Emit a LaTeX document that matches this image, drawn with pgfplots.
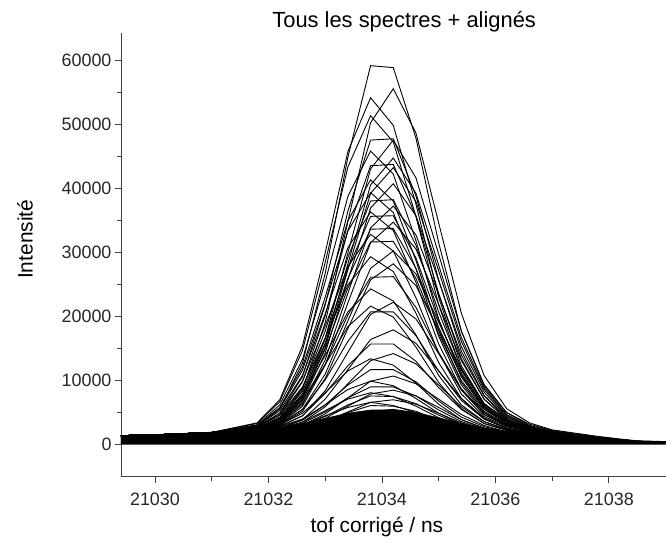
\documentclass[border=0pt]{standalone}
\usepackage{fontspec}
\setmainfont{Liberation Sans}
\usepackage{pgfplots}
\pgfplotsset{compat=1.18}

\pgfplotsset{spec/.style={black, line width=0.9pt, mark=none}}

\begin{document}
\begin{tikzpicture}
\begin{axis}[
  width=545bp, height=444bp, scale only axis,
  xmin=21029.4, xmax=21039, ymin=-5000, ymax=64200,
  axis x line=bottom, axis y line=left,
  axis line style={-, line width=0.8pt, black!75},
  tick align=outside,
  xtick={21030,21032,21034,21036,21038},
  ytick={0,10000,20000,30000,40000,50000,60000},
  minor x tick num=1, minor y tick num=1,
  major tick length=6bp, minor tick length=4bp,
  every tick/.style={line width=0.8pt, black!75},
  scaled ticks=false,
  /pgf/number format/1000 sep={},
  /pgf/number format/assume math mode=true,
  tick label style={font=\fontsize{18}{21}\selectfont, black!85},
  xticklabel style={yshift=-7bp},
  label style={font=\fontsize{21}{25}\selectfont},
  xlabel={tof corrigé / ns},
  ylabel={Intensité},
  xlabel style={at={(axis description cs:0.47,-0.113)}, anchor=center},
  ylabel style={at={(axis description cs:-0.176,0.535)}, anchor=center},
  title={Tous les spectres + alignés},
  title style={at={(axis description cs:0.52,1.025)}, anchor=center, yshift=-6pt, font=\fontsize{22}{26}\selectfont},
]
% dense band of low spectra (overlapping traces)
\addplot[fill=black, draw=black, line width=0.6pt] coordinates {
(21029.4,0) (21029.4,1400) (21030.2,1650) (21031.0,1950) (21031.8,2300) (21032.2,2700) (21032.6,3300) (21033.0,4100) (21033.4,4900) (21033.8,5400) (21034.2,5400) (21034.6,5000) (21035.0,4200) (21035.4,3300) (21035.8,2600) (21036.2,2100) (21036.6,1800) (21037.0,1500) (21037.8,1000) (21038.6,600) (21039.0,500) (21039.0,0)};

% individual spectra
\addplot[spec] coordinates {(21029.4,1400) (21030.2,1600) (21031.0,1900) (21031.8,2900) (21032.2,5600) (21032.6,12700) (21033.0,26700) (21033.4,44800) (21033.8,59100) (21034.2,58800) (21034.6,47800) (21035.0,31500) (21035.4,17700) (21035.8,9200) (21036.2,5000) (21036.6,3200) (21037.0,2200) (21037.8,1200) (21038.6,450) (21039.0,450)};
\addplot[spec] coordinates {(21029.4,1400) (21030.2,1600) (21031.0,1900) (21031.8,2500) (21032.2,4000) (21032.6,8600) (21033.0,19000) (21033.4,34800) (21033.8,50200) (21034.2,55500) (21034.6,48600) (21035.0,34600) (21035.4,20500) (21035.8,10800) (21036.2,5600) (21036.6,3400) (21037.0,2300) (21037.8,1300) (21038.6,450) (21039.0,450)};
\addplot[spec] coordinates {(21029.4,1400) (21030.2,1600) (21031.0,1900) (21031.8,3400) (21032.2,7000) (21032.6,15400) (21033.0,29900) (21033.4,45700) (21033.8,54100) (21034.2,49800) (21034.6,37500) (21035.0,23000) (21035.4,12300) (21035.8,6400) (21036.2,3900) (21036.6,2700) (21037.0,1900) (21037.8,1100) (21038.6,450) (21039.0,450)};
\addplot[spec] coordinates {(21029.4,1400) (21030.2,1600) (21031.0,1900) (21031.8,3300) (21032.2,6700) (21032.6,14700) (21033.0,28400) (21033.4,43300) (21033.8,51300) (21034.2,47200) (21034.6,35600) (21035.0,21800) (21035.4,11700) (21035.8,6200) (21036.2,3700) (21036.6,2600) (21037.0,1900) (21037.8,1000) (21038.6,450) (21039.0,450)};
\addplot[spec] coordinates {(21029.4,1400) (21030.2,1600) (21031.0,1900) (21031.8,2700) (21032.2,4900) (21032.6,10600) (21033.0,21800) (21033.4,36400) (21033.8,47500) (21034.2,47700) (21034.6,38800) (21035.0,25700) (21035.4,14600) (21035.8,7700) (21036.2,4300) (21036.6,2800) (21037.0,1900) (21037.8,1100) (21038.6,450) (21039.0,450)};
\addplot[spec] coordinates {(21029.4,1400) (21030.2,1600) (21031.0,1900) (21031.8,2500) (21032.2,3700) (21032.6,7600) (21033.0,16500) (21033.4,29900) (21033.8,43000) (21034.2,47500) (21034.6,41600) (21035.0,29700) (21035.4,17700) (21035.8,9400) (21036.2,5000) (21036.6,3000) (21037.0,2100) (21037.8,1100) (21038.6,450) (21039.0,450)};
\addplot[spec] coordinates {(21029.4,1400) (21030.2,1600) (21031.0,1900) (21031.8,3100) (21032.2,6200) (21032.6,13300) (21033.0,25400) (21033.4,38700) (21033.8,45800) (21034.2,42200) (21034.6,31800) (21035.0,19600) (21035.4,10600) (21035.8,5600) (21036.2,3500) (21036.6,2400) (21037.0,1800) (21037.8,1000) (21038.6,450) (21039.0,450)};
\addplot[spec] coordinates {(21029.4,1400) (21030.2,1600) (21031.0,1900) (21031.8,2400) (21032.2,3600) (21032.6,7300) (21033.0,15600) (21033.4,28200) (21033.8,40500) (21034.2,44700) (21034.6,39200) (21035.0,28000) (21035.4,16700) (21035.8,8900) (21036.2,4700) (21036.6,2900) (21037.0,2000) (21037.8,1100) (21038.6,450) (21039.0,450)};
\addplot[spec] coordinates {(21029.4,1400) (21030.2,1600) (21031.0,1900) (21031.8,2700) (21032.2,4600) (21032.6,9800) (21033.0,20100) (21033.4,33400) (21033.8,43500) (21034.2,43700) (21034.6,35600) (21035.0,23600) (21035.4,13400) (21035.8,7100) (21036.2,4000) (21036.6,2600) (21037.0,1800) (21037.8,1000) (21038.6,450) (21039.0,450)};
\addplot[spec] coordinates {(21029.4,1400) (21030.2,1600) (21031.0,1900) (21031.8,2400) (21032.2,3500) (21032.6,7100) (21033.0,15100) (21033.4,27300) (21033.8,39200) (21034.2,43200) (21034.6,37900) (21035.0,27100) (21035.4,16100) (21035.8,8600) (21036.2,4600) (21036.6,2800) (21037.0,2000) (21037.8,1100) (21038.6,450) (21039.0,450)};
\addplot[spec] coordinates {(21029.4,1400) (21030.2,1600) (21031.0,1900) (21031.8,3000) (21032.2,5800) (21032.6,12100) (21033.0,23000) (21033.4,34900) (21033.8,41300) (21034.2,38000) (21034.6,28700) (21035.0,17800) (21035.4,9700) (21035.8,5200) (21036.2,3200) (21036.6,2300) (21037.0,1700) (21037.8,900) (21038.6,450) (21039.0,450)};
\addplot[spec] coordinates {(21029.4,1400) (21030.2,1600) (21031.0,1900) (21031.8,2400) (21032.2,3400) (21032.6,6800) (21033.0,14300) (21033.4,25700) (21033.8,36900) (21034.2,40700) (21034.6,35700) (21035.0,25600) (21035.4,15300) (21035.8,8200) (21036.2,4400) (21036.6,2700) (21037.0,1900) (21037.8,1000) (21038.6,450) (21039.0,450)};
\addplot[spec] coordinates {(21029.4,1400) (21030.2,1600) (21031.0,1900) (21031.8,3000) (21032.2,5600) (21032.6,11600) (21033.0,22000) (21033.4,33300) (21033.8,39300) (21034.2,36200) (21034.6,27400) (21035.0,16900) (21035.4,9300) (21035.8,5000) (21036.2,3100) (21036.6,2200) (21037.0,1700) (21037.8,900) (21038.6,450) (21039.0,450)};
\addplot[spec] coordinates {(21029.4,1400) (21030.2,1600) (21031.0,1900) (21031.8,2600) (21032.2,4300) (21032.6,8800) (21033.0,17700) (21033.4,29200) (21033.8,38000) (21034.2,38200) (21034.6,31100) (21035.0,20700) (21035.4,11900) (21035.8,6400) (21036.2,3700) (21036.6,2400) (21037.0,1700) (21037.8,900) (21038.6,450) (21039.0,450)};
\addplot[spec] coordinates {(21029.4,1400) (21030.2,1600) (21031.0,1900) (21031.8,2400) (21032.2,3300) (21032.6,6300) (21033.0,13200) (21033.4,23600) (21033.8,33800) (21034.2,37200) (21034.6,32700) (21035.0,23400) (21035.4,14000) (21035.8,7600) (21036.2,4100) (21036.6,2600) (21037.0,1800) (21037.8,1000) (21038.6,450) (21039.0,450)};
\addplot[spec] coordinates {(21029.4,1400) (21030.2,1600) (21031.0,1900) (21031.8,2900) (21032.2,5300) (21032.6,10800) (21033.0,20400) (21033.4,30700) (21033.8,36300) (21034.2,33400) (21034.6,25300) (21035.0,15700) (21035.4,8600) (21035.8,4700) (21036.2,3000) (21036.6,2100) (21037.0,1600) (21037.8,900) (21038.6,450) (21039.0,450)};
\addplot[spec] coordinates {(21029.4,1400) (21030.2,1600) (21031.0,1900) (21031.8,2500) (21032.2,4100) (21032.6,8300) (21033.0,16600) (21033.4,27400) (21033.8,35600) (21034.2,35700) (21034.6,29100) (21035.0,19400) (21035.4,11200) (21035.8,6000) (21036.2,3500) (21036.6,2300) (21037.0,1600) (21037.8,900) (21038.6,450) (21039.0,450)};
\addplot[spec] coordinates {(21029.4,1400) (21030.2,1600) (21031.0,1900) (21031.8,2300) (21032.2,3200) (21032.6,6000) (21033.0,12400) (21033.4,22100) (21033.8,31500) (21034.2,34700) (21034.6,30500) (21035.0,21900) (21035.4,13100) (21035.8,7100) (21036.2,3900) (21036.6,2500) (21037.0,1800) (21037.8,1000) (21038.6,450) (21039.0,450)};
\addplot[spec] coordinates {(21029.4,1400) (21030.2,1600) (21031.0,1900) (21031.8,2500) (21032.2,4000) (21032.6,7900) (21033.0,15800) (21033.4,25900) (21033.8,33600) (21034.2,33700) (21034.6,27500) (21035.0,18300) (21035.4,10600) (21035.8,5800) (21036.2,3400) (21036.6,2300) (21037.0,1600) (21037.8,900) (21038.6,450) (21039.0,450)};
\addplot[spec] coordinates {(21029.4,1400) (21030.2,1600) (21031.0,1900) (21031.8,2800) (21032.2,4900) (21032.6,9900) (21033.0,18500) (21033.4,27800) (21033.8,32800) (21034.2,30200) (21034.6,22900) (21035.0,14300) (21035.4,7900) (21035.8,4400) (21036.2,2800) (21036.6,2000) (21037.0,1500) (21037.8,800) (21038.6,450) (21039.0,450)};
\addplot[spec] coordinates {(21029.4,1400) (21030.2,1600) (21031.0,1900) (21031.8,2500) (21032.2,3900) (21032.6,7500) (21033.0,14900) (21033.4,24400) (21033.8,31600) (21034.2,31700) (21034.6,25900) (21035.0,17300) (21035.4,10000) (21035.8,5500) (21036.2,3300) (21036.6,2200) (21037.0,1600) (21037.8,900) (21038.6,450) (21039.0,450)};
\addplot[spec] coordinates {(21029.4,1400) (21030.2,1600) (21031.0,1900) (21031.8,2300) (21032.2,3100) (21032.6,5500) (21033.0,11000) (21033.4,19300) (21033.8,27500) (21034.2,30200) (21034.6,26600) (21035.0,19100) (21035.4,11600) (21035.8,6400) (21036.2,3600) (21036.6,2300) (21037.0,1600) (21037.8,900) (21038.6,450) (21039.0,450)};
\addplot[spec] coordinates {(21029.4,1400) (21030.2,1600) (21031.0,1900) (21031.8,2700) (21032.2,4600) (21032.6,9000) (21033.0,16600) (21033.4,24900) (21033.8,29300) (21034.2,27000) (21034.6,20500) (21035.0,12800) (21035.4,7200) (21035.8,4000) (21036.2,2600) (21036.6,1900) (21037.0,1400) (21037.8,800) (21038.6,450) (21039.0,450)};
\addplot[spec] coordinates {(21029.4,1400) (21030.2,1600) (21031.0,1900) (21031.8,2300) (21032.2,3000) (21032.6,5200) (21033.0,10300) (21033.4,18100) (21033.8,25700) (21034.2,28200) (21034.6,24800) (21035.0,17900) (21035.4,10900) (21035.8,6000) (21036.2,3400) (21036.6,2200) (21037.0,1600) (21037.8,900) (21038.6,450) (21039.0,450)};
\addplot[spec] coordinates {(21029.4,1400) (21030.2,1600) (21031.0,1900) (21031.8,2400) (21032.2,3500) (21032.6,6500) (21033.0,12500) (21033.4,20200) (21033.8,26100) (21034.2,26200) (21034.6,21400) (21035.0,14400) (21035.4,8500) (21035.8,4700) (21036.2,2900) (21036.6,2000) (21037.0,1400) (21037.8,800) (21038.6,450) (21039.0,450)};
\addplot[spec] coordinates {(21029.4,1400) (21030.2,1600) (21031.0,1900) (21031.8,2600) (21032.2,4100) (21032.6,7700) (21033.0,13900) (21033.4,20700) (21033.8,24300) (21034.2,22400) (21034.6,17100) (21035.0,10800) (21035.4,6200) (21035.8,3600) (21036.2,2400) (21036.6,1800) (21037.0,1400) (21037.8,700) (21038.6,450) (21039.0,450)};
\addplot[spec] coordinates {(21029.4,1400) (21030.2,1600) (21031.0,1900) (21031.8,2200) (21032.2,2800) (21032.6,4500) (21033.0,8400) (21033.4,14400) (21033.8,20300) (21034.2,22200) (21034.6,19600) (21035.0,14200) (21035.4,8700) (21035.8,5000) (21036.2,2900) (21036.6,2000) (21037.0,1400) (21037.8,800) (21038.6,450) (21039.0,450)};
\addplot[spec] coordinates {(21029.4,1400) (21030.2,1600) (21031.0,1900) (21031.8,2500) (21032.2,3900) (21032.6,7000) (21033.0,12500) (21033.4,18400) (21033.8,21600) (21034.2,19900) (21034.6,15200) (21035.0,9700) (21035.4,5600) (21035.8,3300) (21036.2,2300) (21036.6,1700) (21037.0,1300) (21037.8,700) (21038.6,450) (21039.0,450)};
\addplot[spec] coordinates {(21029.4,1400) (21030.2,1600) (21031.0,1900) (21031.8,2300) (21032.2,3200) (21032.6,5500) (21033.0,10100) (21033.4,16100) (21033.8,20700) (21034.2,20700) (21034.6,17000) (21035.0,11500) (21035.4,6900) (21035.8,4000) (21036.2,2500) (21036.6,1800) (21037.0,1300) (21037.8,700) (21038.6,450) (21039.0,450)};
\addplot[spec] coordinates {(21029.4,1400) (21030.2,1600) (21031.0,1900) (21031.8,2200) (21032.2,2600) (21032.6,3900) (21033.0,7100) (21033.4,11700) (21033.8,16400) (21034.2,17900) (21034.6,15800) (21035.0,11500) (21035.4,7200) (21035.8,4200) (21036.2,2600) (21036.6,1800) (21037.0,1300) (21037.8,700) (21038.6,450) (21039.0,450)};
\addplot[spec] coordinates {(21029.4,1400) (21030.2,1600) (21031.0,1900) (21031.8,2200) (21032.2,2900) (21032.6,4500) (21033.0,8000) (21033.4,12300) (21033.8,15700) (21034.2,15700) (21034.6,13000) (21035.0,8900) (21035.4,5500) (21035.8,3300) (21036.2,2200) (21036.6,1600) (21037.0,1200) (21037.8,700) (21038.6,450) (21039.0,450)};
\addplot[spec] coordinates {(21029.4,1400) (21030.2,1600) (21031.0,1900) (21031.8,2100) (21032.2,2500) (21032.6,3500) (21033.0,5900) (21033.4,9500) (21033.8,13100) (21034.2,14200) (21034.6,12600) (21035.0,9300) (21035.4,5900) (21035.8,3600) (21036.2,2300) (21036.6,1600) (21037.0,1200) (21037.8,700) (21038.6,450) (21039.0,450)};
\addplot[spec] coordinates {(21029.4,1400) (21030.2,1600) (21031.0,1900) (21031.8,2300) (21032.2,3100) (21032.6,4900) (21033.0,8100) (21033.4,11500) (21033.8,13400) (21034.2,12400) (21034.6,9600) (21035.0,6300) (21035.4,3900) (21035.8,2500) (21036.2,1900) (21036.6,1400) (21037.0,1100) (21037.8,600) (21038.6,450) (21039.0,450)};
\addplot[spec] coordinates {(21029.4,1400) (21030.2,1600) (21031.0,1900) (21031.8,2200) (21032.2,2600) (21032.6,3800) (21033.0,6200) (21033.4,9300) (21033.8,11700) (21034.2,11700) (21034.6,9800) (21035.0,6800) (21035.4,4300) (21035.8,2800) (21036.2,2000) (21036.6,1500) (21037.0,1100) (21037.8,600) (21038.6,450) (21039.0,450)};
\addplot[spec] coordinates {(21029.4,1400) (21030.2,1600) (21031.0,1900) (21031.8,2100) (21032.2,2300) (21032.6,3000) (21033.0,4800) (21033.4,7300) (21033.8,9900) (21034.2,10700) (21034.6,9500) (21035.0,7100) (21035.4,4700) (21035.8,3000) (21036.2,2000) (21036.6,1500) (21037.0,1100) (21037.8,600) (21038.6,450) (21039.0,450)};
\addplot[spec] coordinates {(21029.4,1400) (21030.2,1600) (21031.0,1900) (21031.8,2200) (21032.2,2800) (21032.6,4000) (21033.0,6200) (21033.4,8600) (21033.8,9900) (21034.2,9200) (21034.6,7200) (21035.0,4900) (21035.4,3200) (21035.8,2200) (21036.2,1700) (21036.6,1300) (21037.0,1100) (21037.8,600) (21038.6,450) (21039.0,450)};
\addplot[spec] coordinates {(21029.4,1400) (21030.2,1600) (21031.0,1900) (21031.8,2100) (21032.2,2500) (21032.6,3300) (21033.0,5100) (21033.4,7300) (21033.8,9000) (21034.2,9000) (21034.6,7600) (21035.0,5400) (21035.4,3600) (21035.8,2400) (21036.2,1800) (21036.6,1400) (21037.0,1100) (21037.8,600) (21038.6,450) (21039.0,450)};
\addplot[spec] coordinates {(21029.4,1400) (21030.2,1600) (21031.0,1900) (21031.8,2100) (21032.2,2300) (21032.6,2800) (21033.0,4100) (21033.4,6000) (21033.8,7900) (21034.2,8500) (21034.6,7600) (21035.0,5800) (21035.4,3900) (21035.8,2600) (21036.2,1800) (21036.6,1400) (21037.0,1100) (21037.8,600) (21038.6,450) (21039.0,450)};
\addplot[spec] coordinates {(21029.4,1400) (21030.2,1600) (21031.0,1900) (21031.8,2200) (21032.2,2600) (21032.6,3500) (21033.0,5300) (21033.4,7100) (21033.8,8100) (21034.2,7500) (21034.6,6000) (21035.0,4200) (21035.4,2800) (21035.8,2000) (21036.2,1600) (21036.6,1300) (21037.0,1000) (21037.8,600) (21038.6,450) (21039.0,450)};
\addplot[spec] coordinates {(21029.4,1400) (21030.2,1600) (21031.0,1900) (21031.8,2100) (21032.2,2400) (21032.6,3000) (21033.0,4400) (21033.4,6200) (21033.8,7600) (21034.2,7500) (21034.6,6400) (21035.0,4600) (21035.4,3100) (21035.8,2200) (21036.2,1700) (21036.6,1300) (21037.0,1000) (21037.8,600) (21038.6,450) (21039.0,450)};
\addplot[spec] coordinates {(21029.4,1400) (21030.2,1600) (21031.0,1900) (21031.8,2100) (21032.2,2200) (21032.6,2600) (21033.0,3600) (21033.4,5100) (21033.8,6600) (21034.2,7000) (21034.6,6300) (21035.0,4900) (21035.4,3400) (21035.8,2300) (21036.2,1700) (21036.6,1300) (21037.0,1000) (21037.8,600) (21038.6,450) (21039.0,450)};
\addplot[spec] coordinates {(21029.4,1400) (21030.2,1600) (21031.0,1900) (21031.8,2100) (21032.2,2500) (21032.6,3100) (21033.0,4500) (21033.4,5800) (21033.8,6600) (21034.2,6100) (21034.6,5000) (21035.0,3600) (21035.4,2500) (21035.8,1900) (21036.2,1500) (21036.6,1200) (21037.0,1000) (21037.8,600) (21038.6,450) (21039.0,450)};
\addplot[spec] coordinates {(21029.4,1400) (21030.2,1600) (21031.0,1900) (21031.8,2100) (21032.2,2300) (21032.6,2700) (21033.0,3800) (21033.4,5000) (21033.8,6100) (21034.2,6000) (21034.6,5200) (21035.0,3800) (21035.4,2700) (21035.8,2000) (21036.2,1600) (21036.6,1300) (21037.0,1000) (21037.8,600) (21038.6,450) (21039.0,450)};
\addplot[spec] coordinates {(21029.4,1400) (21030.2,1600) (21031.0,1900) (21031.8,2000) (21032.2,2100) (21032.6,2400) (21033.0,3100) (21033.4,4100) (21033.8,5200) (21034.2,5500) (21034.6,5000) (21035.0,3900) (21035.4,2800) (21035.8,2100) (21036.2,1600) (21036.6,1300) (21037.0,1000) (21037.8,600) (21038.6,450) (21039.0,450)};

\coordinate (ll) at (rel axis cs:0,0);
\coordinate (ur) at (rel axis cs:1,1);
\end{axis}
\path ([shift={(-121bp,-67bp)}]ll) rectangle ([shift={(0bp,33bp)}]ur);
\end{tikzpicture}
\end{document}
